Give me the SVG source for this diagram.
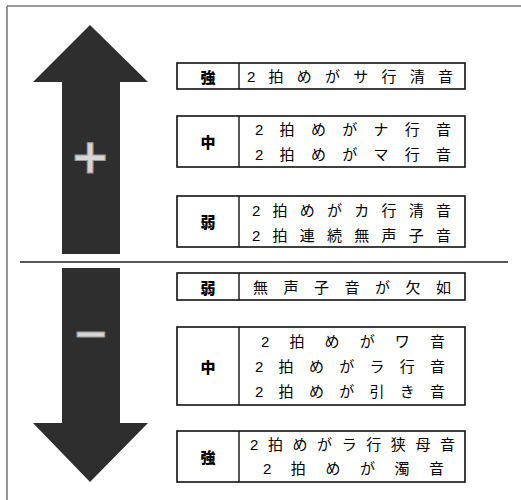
<svg xmlns="http://www.w3.org/2000/svg" width="521" height="500" viewBox="0 0 521 500">
<style>
.box{fill:#fff;stroke:#111;stroke-width:1.6}
.sep{stroke:#111;stroke-width:1.4}
.t{font-family:"Liberation Sans","Noto Sans CJK JP",sans-serif;font-size:15px;fill:#000;dominant-baseline:central}
.lb{font-family:"Noto Sans CJK JP",sans-serif;font-size:15px;font-weight:900;fill:#000;text-anchor:middle;dominant-baseline:central}
.arrow{fill:#2e2e2e}
.sym{font-family:"DejaVu Sans",sans-serif;fill:#d6d6d6;text-anchor:middle;stroke:#9a9a9a;stroke-width:1}
</style>
<rect width="521" height="500" fill="#fff"/>
<g id="frame" stroke="#7a7a7a" stroke-width="1.6" fill="none">
<line x1="7" y1="6" x2="521" y2="6"/>
<line x1="7" y1="6" x2="7" y2="500"/>
</g>
<g id="divider"><line x1="20" y1="262" x2="508" y2="262" stroke="#222" stroke-width="1.6"/></g>
<g id="arrows">
<g id="arrow-up">
<polygon class="arrow" points="90,25 148,82 120,82 120,254 62,254 62,82 33,82"/>
<text class="sym" x="90" y="173" font-size="48" font-weight="bold">+</text>
</g>
<g id="arrow-down">
<polygon class="arrow" points="62,268 120,268 120,423 148,423 90,482 33,423 62,423"/>
<text class="sym" x="91" y="348" font-size="44" font-weight="bold" stroke-width="7" stroke="#d6d6d6" stroke-linejoin="round">−</text>
</g>
</g>
<g id="box1">
<rect class="box" x="177" y="63" width="288" height="26"/>
<line class="sep" x1="239" y1="63" x2="239" y2="89"/>
<text class="lb" x="208" y="76">強</text>
<text class="t" x="247" y="76" textLength="206" lengthAdjust="spacing">2拍めがサ行清音</text>
</g>
<g id="box2">
<rect class="box" x="177" y="116" width="288" height="51"/>
<line class="sep" x1="239" y1="116" x2="239" y2="167"/>
<text class="lb" x="208" y="141.5">中</text>
<text class="t" x="255" y="129" textLength="196" lengthAdjust="spacing">2拍めがナ行音</text>
<text class="t" x="255" y="154" textLength="196" lengthAdjust="spacing">2拍めがマ行音</text>
</g>
<g id="box3">
<rect class="box" x="177" y="196" width="288" height="51"/>
<line class="sep" x1="239" y1="196" x2="239" y2="247"/>
<text class="lb" x="208" y="221.5">弱</text>
<text class="t" x="252" y="210" textLength="199" lengthAdjust="spacing">2拍めがカ行清音</text>
<text class="t" x="252" y="235" textLength="199" lengthAdjust="spacing">2拍連続無声子音</text>
</g>
<g id="box4">
<rect class="box" x="177" y="273" width="288" height="27"/>
<line class="sep" x1="239" y1="273" x2="239" y2="300"/>
<text class="lb" x="208" y="287">弱</text>
<text class="t" x="253" y="287" textLength="198" lengthAdjust="spacing">無声子音が欠如</text>
</g>
<g id="box5">
<rect class="box" x="177" y="327" width="288" height="78"/>
<line class="sep" x1="239" y1="327" x2="239" y2="405"/>
<text class="lb" x="208" y="366">中</text>
<text class="t" x="261" y="341" textLength="184" lengthAdjust="spacing">2拍めがワ音</text>
<text class="t" x="255" y="366" textLength="190" lengthAdjust="spacing">2拍めがラ行音</text>
<text class="t" x="255" y="391" textLength="190" lengthAdjust="spacing">2拍めが引き音</text>
</g>
<g id="box6">
<rect class="box" x="177" y="431" width="288" height="51"/>
<line class="sep" x1="239" y1="431" x2="239" y2="482"/>
<text class="lb" x="208" y="456">強</text>
<text class="t" x="250" y="444" textLength="205" lengthAdjust="spacing">2拍めがラ行狭母音</text>
<text class="t" x="263" y="468" textLength="181" lengthAdjust="spacing">2拍めが濁音</text>
</g>
</svg>
